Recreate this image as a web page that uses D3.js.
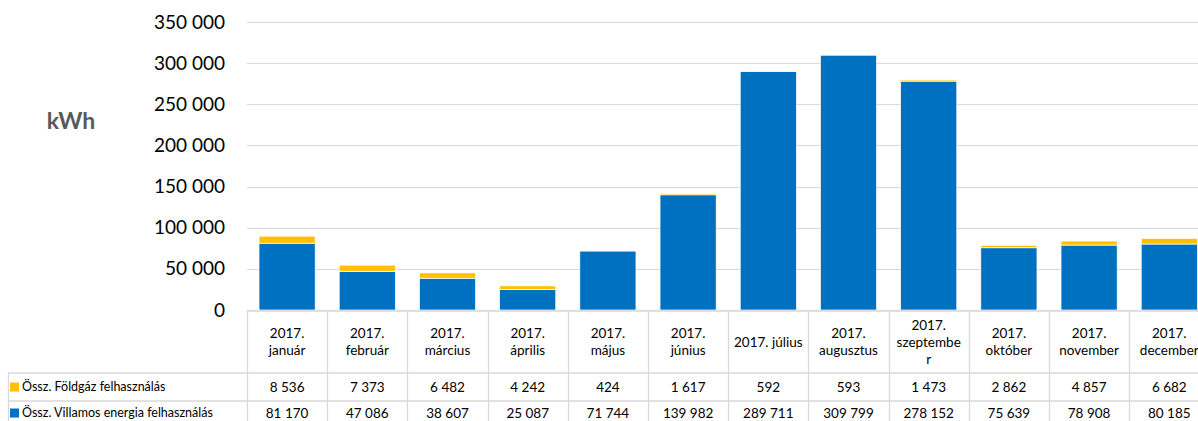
<!DOCTYPE html>
<html><head><meta charset="utf-8">
<script src="https://cdn.jsdelivr.net/npm/d3@7"></script>
<style>html,body{margin:0;padding:0;background:#fff;overflow:hidden}svg{display:block;font-family:Lato,"Open Sans",sans-serif}</style>
</head><body>
<svg id="c" width="1198" height="421"></svg>
<script>
const categories = ["2017. január","2017. február","2017. március","2017. április","2017. május","2017. június","2017. július","2017. augusztus","2017. szeptember","2017. október","2017. november","2017. december"];
const categoryLines = [["2017.","január"],["2017.","február"],["2017.","március"],["2017.","április"],["2017.","május"],["2017.","június"],["2017. július"],["2017.","augusztus"],["2017.","szeptembe","r"],["2017.","október"],["2017.","november"],["2017.","december"]];
const seriesNames = ["Össz. Földgáz felhasználás","Össz. Villamos energia felhasználás"];
const gas = [8536,7373,6482,4242,424,1617,592,593,1473,2862,4857,6682];
const electricity = [81170,47086,38607,25087,71744,139982,289711,309799,278152,75639,78908,80185];
const yTicks = [0,50000,100000,150000,200000,250000,300000,350000];
const axisTitle = "kWh";

const colors = {gas:"#FFC000", el:"#0070C0"};
const svg = d3.select("#c");
const plotLeft = 247, step = 80.2, plotTop = 22, base = 310;
const x = d3.scaleBand().domain(categories).range([plotLeft, plotLeft + step*categories.length]).paddingInner(0.3).paddingOuter(0.15);
const y = d3.scaleLinear().domain([0,350000]).range([base, plotTop]);
const fmt = v => d3.format(",")(v).replace(/,/g, " ");

// gridlines
svg.append("g").selectAll("line").data(yTicks).join("line")
  .attr("x1", plotLeft).attr("x2", 1198).attr("y1", d=>Math.round(y(d))+0.5).attr("y2", d=>Math.round(y(d))+0.5)
  .attr("stroke", "#D9D9D9").attr("stroke-width", 1);

// y axis labels
const yAxis = d3.axisLeft(y).tickValues(yTicks).tickFormat(fmt).tickSize(0).tickPadding(0);
const ga = svg.append("g").attr("transform", `translate(225,0)`).call(yAxis);
ga.select(".domain").remove();
ga.selectAll("text").attr("font-size", 19).attr("fill", "#000").attr("font-family", "Lato,sans-serif");

svg.append("text").attr("x", 71).attr("y", 129).attr("text-anchor","middle")
  .attr("font-size", 23).attr("font-weight","bold").attr("fill","#595959").text(axisTitle);

// bars
const data = categories.map((c,i)=>({c, el:electricity[i], gas:gas[i]}));
const g = svg.append("g");
g.selectAll("rect.el").data(data).join("rect").attr("class","el")
  .attr("x", d=>x(d.c)).attr("width", x.bandwidth())
  .attr("y", d=>y(d.el)).attr("height", d=>y(0)-y(d.el))
  .attr("fill", colors.el).attr("stroke","#fff").attr("stroke-width",0.7);
g.selectAll("rect.gas").data(data).join("rect").attr("class","gas")
  .attr("x", d=>x(d.c)).attr("width", x.bandwidth())
  .attr("y", d=>y(d.el+d.gas)).attr("height", d=>y(d.el)-y(d.el+d.gas))
  .attr("fill", colors.gas).attr("stroke","#fff").attr("stroke-width",0.7);

// data table
const t = svg.append("g").attr("stroke","#D9D9D9").attr("stroke-width",1.3);
const tableTop = 311, row1 = 373, row2 = 401, row3 = 430, legLeft = 8;
const colEdges = d3.range(categories.length+1).map(i => plotLeft + i*step);
t.append("line").attr("x1", plotLeft).attr("x2", 1198).attr("y1", tableTop).attr("y2", tableTop);
[row1,row2].forEach(r => t.append("line").attr("x1", legLeft).attr("x2", 1198).attr("y1", r).attr("y2", r));
t.selectAll("line.v").data(colEdges).join("line").attr("class","v")
  .attr("x1", d=>Math.round(d)+0.5).attr("x2", d=>Math.round(d)+0.5).attr("y1", tableTop).attr("y2", row3);
t.append("line").attr("x1", legLeft+0.5).attr("x2", legLeft+0.5).attr("y1", row1).attr("y2", row3);

// category labels
const cx = c => x(c) + x.bandwidth()/2;
const lab = svg.append("g").attr("font-size", 13.5).attr("fill","#000").attr("text-anchor","middle");
categories.forEach((c,i)=>{
  const lines = categoryLines[i];
  const lh = 17, mid = (tableTop+row1)/2;
  const y0 = mid - (lines.length-1)*lh/2;
  lines.forEach((ln,j)=> lab.append("text").attr("x", cx(c)).attr("y", y0 + j*lh).attr("dy","0.35em").text(ln));
});

// values rows
const rowMid = [387, 413];
[[gas,rowMid[0]],[electricity,rowMid[1]]].forEach(([arr,yy])=>{
  lab.append("g").selectAll("text").data(arr).join("text").attr("x",(d,i)=>cx(categories[i])).attr("y",yy).attr("dy","0.35em").text(d=>fmt(d));
});

// legend cells
[[seriesNames[0],colors.gas,rowMid[0]],[seriesNames[1],colors.el,rowMid[1]]].forEach(([n,col,yy])=>{
  svg.append("rect").attr("x",10).attr("y",yy-4.5).attr("width",9).attr("height",9).attr("fill",col);
  svg.append("text").attr("x",22).attr("y",yy).attr("dy","0.35em").attr("font-size",12.5).attr("fill","#000").text(n);
});
</script>
</body></html>
